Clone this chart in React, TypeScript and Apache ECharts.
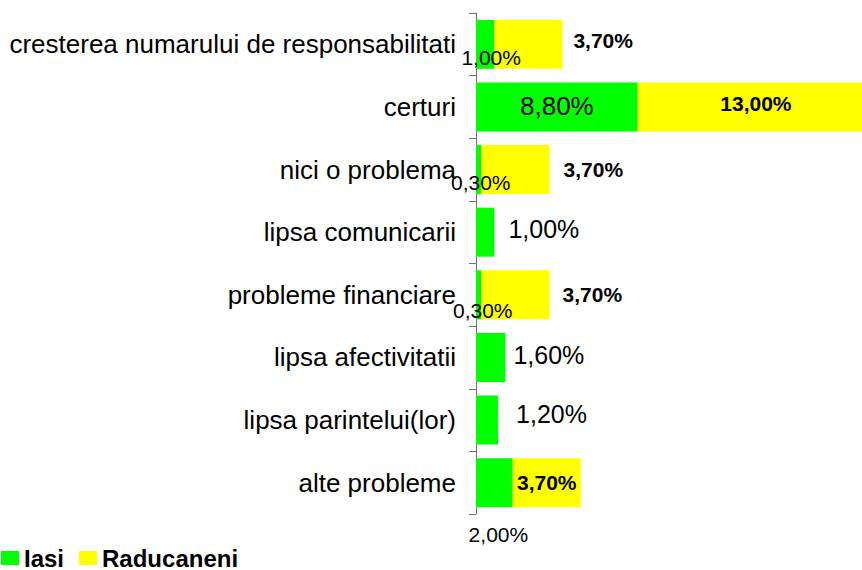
import React, { useEffect, useRef } from "react";
import * as echarts from "echarts";

const categories = [
  "cresterea numarului de responsabilitati",
  "certuri",
  "nici o problema",
  "lipsa comunicarii",
  "probleme financiare",
  "lipsa afectivitatii",
  "lipsa parintelui(lor)",
  "alte probleme",
];
const iasiValues = [1.0, 8.8, 0.3, 1.0, 0.3, 1.6, 1.2, 2.0];
const raducaneniValues = [3.7, 13.0, 3.7, 0, 3.7, 0, 0, 3.7];
const seriesNames = ["Iasi", "Raducaneni"];

// label placement styles (not data)
const iasiLabelStyles: any[] = [
  { position: "inside", offset: [6, 13], fontSize: 21 },
  { position: "inside", offset: [0, -1], fontSize: 26 },
  { position: "inside", offset: [2, 13], fontSize: 21 },
  { position: "right", distance: 14, offset: [0, -3], fontSize: 25 },
  { position: "inside", offset: [4, 16], fontSize: 21 },
  { position: "right", distance: 8, offset: [0, -2], fontSize: 25 },
  { position: "right", distance: 18, offset: [0, -6], fontSize: 25 },
  { position: "inside", offset: [4, 52], fontSize: 21 },
];
const raduLabelStyles: any[] = [
  { position: "right", distance: 11, offset: [0, -4] },
  { position: "inside", offset: [6, -3] },
  { position: "right", distance: 14, offset: [0, 0] },
  { position: "right", distance: 10 },
  { position: "right", distance: 13, offset: [0, 0] },
  { position: "right", distance: 10 },
  { position: "right", distance: 10 },
  { position: "inside", offset: [0, 0] },
];

const FONT = "Liberation Sans, Arial, sans-serif";
const fmt = (v: number) => (v ? v.toFixed(2).replace(".", ",") + "%" : "");

export default function App() {
  const ref = useRef<HTMLDivElement>(null);
  useEffect(() => {
    if (!ref.current) return;
    const chart = echarts.init(ref.current, undefined, { renderer: "svg" });
    chart.setOption({
      animation: false,
      textStyle: { fontFamily: FONT },
      grid: { left: 476, right: 0, top: 13, bottom: 56, containLabel: false },
      legend: {
        left: 1,
        top: 546,
        padding: 0,
        itemWidth: 18,
        itemHeight: 14,
        itemGap: 15,
        icon: "rect",
        textStyle: { fontSize: 24, fontWeight: "bold", color: "#000", fontFamily: FONT },
        data: seriesNames,
      },
      xAxis: {
        type: "value",
        min: 0,
        max: 21,
        show: false,
        splitLine: { show: false },
      },
      yAxis: {
        type: "category",
        inverse: true,
        data: categories,
        axisLine: { show: true, lineStyle: { color: "#707070", width: 1 } },
        axisTick: { show: true, length: 7, lineStyle: { color: "#707070" } },
        axisLabel: { fontSize: 26, color: "#000", margin: 20, fontFamily: FONT },
      },
      series: [
        {
          name: seriesNames[0],
          type: "bar",
          stack: "total",
          barWidth: 49,
          itemStyle: { color: "#00FF00" },
          label: {
            show: true,
            color: "#000",
            fontFamily: FONT,
            formatter: (p: any) => fmt(p.value),
          },
          data: iasiValues.map((v, i) => ({ value: v, label: { ...iasiLabelStyles[i] } })),
        },
        {
          name: seriesNames[1],
          type: "bar",
          stack: "total",
          barWidth: 49,
          clip: true,
          itemStyle: { color: "#FFFF00" },
          label: {
            show: true,
            color: "#000",
            fontFamily: FONT,
            fontWeight: "bold",
            fontSize: 21,
            formatter: (p: any) => fmt(p.value),
          },
          data: raducaneniValues.map((v, i) => ({ value: v, label: { ...raduLabelStyles[i] } })),
        },
      ],
    });
    return () => chart.dispose();
  }, []);
  return (
    <div
      ref={ref}
      style={{ position: "absolute", left: 0, top: 0, width: 862, height: 570, background: "#fff" }}
    />
  );
}
